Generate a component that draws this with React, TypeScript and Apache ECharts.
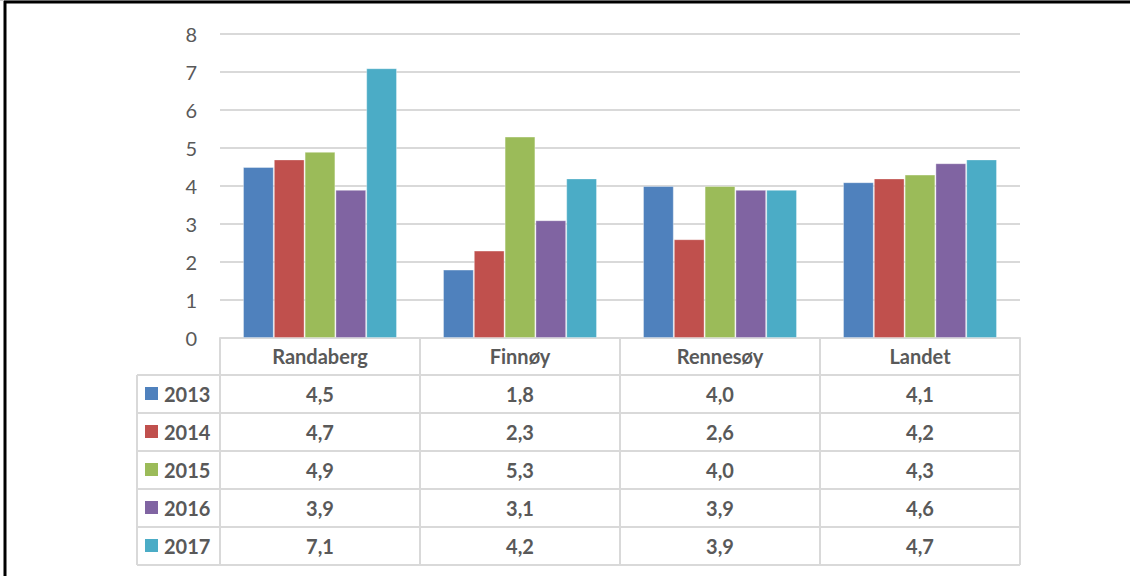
import React, { useEffect, useRef } from "react";
import * as echarts from "echarts";

const categories = ["Randaberg", "Finnøy", "Rennesøy", "Landet"];
const years = ["2013", "2014", "2015", "2016", "2017"];
const v2013 = [4.5, 1.8, 4.0, 4.1];
const v2014 = [4.7, 2.3, 2.6, 4.2];
const v2015 = [4.9, 5.3, 4.0, 4.3];
const v2016 = [3.9, 3.1, 3.9, 4.6];
const v2017 = [7.1, 4.2, 3.9, 4.7];
const seriesValues = [v2013, v2014, v2015, v2016, v2017];
const colors = ["#4F81BD", "#C0504D", "#9BBB59", "#8064A2", "#4BACC6"];
const yMin = 0;
const yMax = 8;
const yInterval = 1;

const W = 1130;
const H = 576;
const GRID_LEFT = 220;
const GRID_RIGHT_X = 1020;
const GRID_TOP = 34;
const AXIS_Y = 338;
const ROW_H = 38;
const LEGEND_LEFT = 137;
const FONT = "Lato, 'Noto Sans', sans-serif";
const TEXT = "#595959";
const LINE = "#d9d9d9";

const fmt = (v: number) => v.toFixed(1).replace(".", ",");

export default function App() {
  const ref = useRef<HTMLDivElement>(null);
  useEffect(() => {
    if (!ref.current) return;
    const chart = echarts.init(ref.current, undefined, { renderer: "svg" });
    const colW = (GRID_RIGHT_X - GRID_LEFT) / categories.length;
    const tableBottom = AXIS_Y + ROW_H * (years.length + 1) - 1;
    const graphics: any[] = [];
    // outer frame
    graphics.push({ type: "line", shape: { x1: 0, y1: 0.5, x2: W, y2: 0.5 }, style: { stroke: "#d0d0d0", lineWidth: 1 } });
    graphics.push({ type: "line", shape: { x1: 4, y1: 2, x2: W, y2: 2 }, style: { stroke: "#000", lineWidth: 3 } });
    graphics.push({ type: "line", shape: { x1: 5, y1: 1, x2: 5, y2: H }, style: { stroke: "#000", lineWidth: 3 } });
    // table vertical lines
    for (let i = 0; i <= categories.length; i++) {
      const x = GRID_LEFT + i * colW;
      graphics.push({ type: "line", shape: { x1: x, y1: AXIS_Y, x2: x, y2: tableBottom }, style: { stroke: LINE, lineWidth: 2 } });
    }
    graphics.push({ type: "line", shape: { x1: LEGEND_LEFT, y1: AXIS_Y + ROW_H - 1, x2: LEGEND_LEFT, y2: tableBottom }, style: { stroke: LINE, lineWidth: 2 } });
    // table horizontal lines
    for (let r = 1; r <= years.length + 1; r++) {
      const y = AXIS_Y + ROW_H * r - 1;
      graphics.push({ type: "line", shape: { x1: LEGEND_LEFT, y1: y, x2: GRID_RIGHT_X, y2: y }, style: { stroke: LINE, lineWidth: 2 } });
    }
    // legend keys
    years.forEach((yr, k) => {
      const cy = AXIS_Y + ROW_H * (k + 1) + 18;
      graphics.push({ type: "rect", shape: { x: 145, y: cy - 7, width: 13, height: 13 }, style: { fill: colors[k] } });
      graphics.push({
        type: "text",
        x: 164,
        y: cy,
        style: { text: yr, fill: TEXT, font: `bold 20px ${FONT}`, textVerticalAlign: "middle", verticalAlign: "middle" },
      });
    });

    const xAxes: any[] = [
      {
        type: "category",
        data: categories,
        position: "bottom",
        axisLine: { show: true, lineStyle: { color: LINE, width: 2 } },
        axisTick: { show: false },
        axisLabel: { color: TEXT, fontFamily: FONT, fontWeight: "bold", fontSize: 20, margin: 18, verticalAlign: "middle" },
      },
    ];
    seriesValues.forEach((vals, k) => {
      xAxes.push({
        type: "category",
        data: vals.map(fmt),
        position: "bottom",
        offset: ROW_H * (k + 1),
        axisLine: { show: false },
        axisTick: { show: false },
        splitLine: { show: false },
        axisLabel: { color: TEXT, fontFamily: FONT, fontWeight: "bold", fontSize: 20, margin: 18, verticalAlign: "middle" },
      });
    });

    chart.setOption({
      animation: false,
      grid: { left: GRID_LEFT, right: W - GRID_RIGHT_X, top: GRID_TOP, bottom: H - AXIS_Y, containLabel: false },
      xAxis: xAxes,
      yAxis: {
        type: "value",
        min: yMin,
        max: yMax,
        interval: yInterval,
        axisLine: { show: false },
        axisTick: { show: false },
        axisLabel: { color: TEXT, fontFamily: FONT, fontSize: 20, margin: 23 },
        splitLine: { lineStyle: { color: LINE, width: 2 } },
      },
      series: seriesValues.map((vals, k) => ({
        type: "bar",
        name: years[k],
        data: vals,
        xAxisIndex: 0,
        barGap: "0%",
        barCategoryGap: "23%",
        itemStyle: { color: colors[k], borderColor: "rgba(255,255,255,0.35)", borderWidth: 1 },
      })),
      graphic: graphics,
    });
    return () => chart.dispose();
  }, []);
  return <div ref={ref} style={{ position: "fixed", left: 0, top: 0, width: W, height: H, background: "#fff" }} />;
}
